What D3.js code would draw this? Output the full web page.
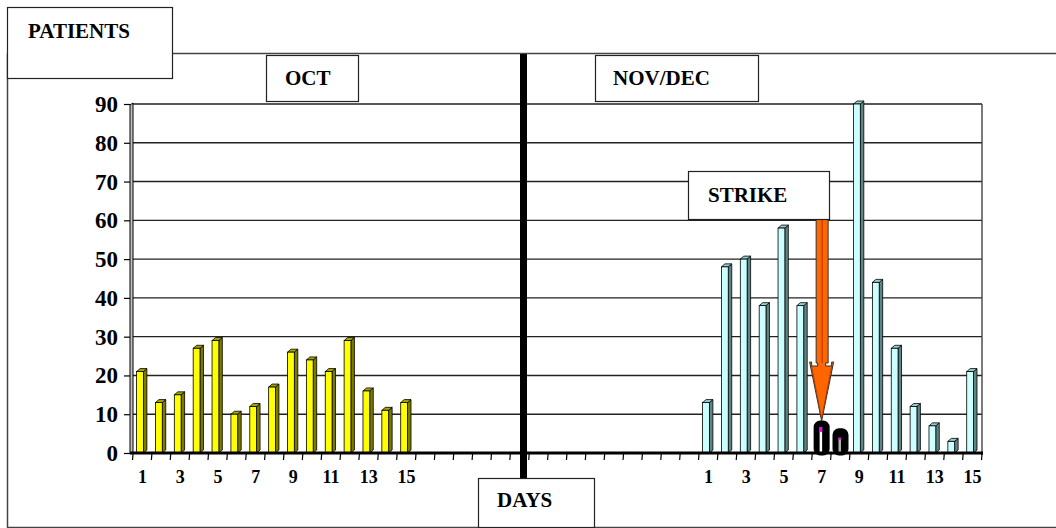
<html lang="en">
<head>
<meta charset="utf-8">
<title>Patients per day</title>
<script src="https://d3js.org/d3.v7.min.js"></script>
<style>
  body { margin: 0; background: #fff; }
  text { font-family: "Liberation Serif", "Times New Roman", serif; font-weight: bold; fill: #000; }
</style>
</head>
<body></body>
<script type="text/javascript">

/*********************************************************************/
// Data

var octDays = ["1","2","3","4","5","6","7","8","9","10","11","12","13","14","15"];
var octPatients = [21, 13, 15, 27, 29, 10, 12, 17, 26, 24, 21, 29, 16, 11, 13];

var novDecDays = ["1","2","3","4","5","6","7","8","9","10","11","12","13","14","15"];
var novDecPatients = [13, 48, 50, 38, 58, 38, 8, 6, 90, 44, 27, 12, 7, 3, 21];

// days of the strike (drawn as black bars)
var strikeDays = ["7", "8"];

var yTicks = [0, 10, 20, 30, 40, 50, 60, 70, 80, 90];
var gapSlots = 15;

/*********************************************************************/
// Canvas

var width = 1056, height = 528;

var svg = d3.select("body")
	.append("svg")
	.attr("width", width)
	.attr("height", height);

// slots: oct days, empty gap, nov/dec days
var slots = [];
octDays.forEach(function(d, i){ slots.push({key: "o" + d, label: d, value: octPatients[i], series: "oct"}); });
for (var g = 0; g < gapSlots; g++) slots.push({key: "g" + g, label: "", value: null, series: "gap"});
novDecDays.forEach(function(d, i){
	slots.push({key: "n" + d, label: d, value: novDecPatients[i],
		series: strikeDays.indexOf(d) >= 0 ? "strike" : "nov"});
});

var plotLeft = 133, plotRight = 982, plotTop = 104, plotBottom = 453;

var x = d3.scaleBand()
	.domain(slots.map(function(d){ return d.key; }))
	.range([plotLeft, plotRight])
	.padding(0);

var y = d3.scaleLinear()
	.domain([0, 90])
	.range([plotBottom, plotTop]);

var bw = x.bandwidth();

/*********************************************************************/
// Outer frame

svg.append("path")
	.attr("d", "M7.5,53.5 V527.5 H1056 M7.5,53.5 H1056")
	.style("fill", "none")
	.style("stroke", "#444")
	.style("stroke-width", 1.5);

/*********************************************************************/
// Grid + wall

svg.append("g")
	.selectAll("line")
	.data(yTicks.filter(function(t){ return t > 0; }))
	.enter()
	.append("line")
	.attr("x1", plotLeft)
	.attr("x2", plotRight)
	.attr("y1", function(d){ return y(d); })
	.attr("y2", function(d){ return y(d); })
	.style("stroke", "#222")
	.style("stroke-width", 1.4);

svg.append("line")
	.attr("x1", plotRight).attr("x2", plotRight)
	.attr("y1", plotTop).attr("y2", plotBottom + 2)
	.style("stroke", "#444")
	.style("stroke-width", 1.4);

// left wall (3D side)
svg.append("path")
	.attr("d", "M130," + (plotBottom + 1) + " V" + (plotTop + 1) + " L133," + (plotTop - 1) + " V" + plotBottom + " Z")
	.style("fill", "#c0c0c0")
	.style("stroke", "#000")
	.style("stroke-width", 1);

// y ticks + labels
var yAxis = svg.append("g");
yAxis.selectAll("line")
	.data(yTicks)
	.enter()
	.append("line")
	.attr("x1", 124).attr("x2", 130)
	.attr("y1", function(d){ return y(d) + 0.5; })
	.attr("y2", function(d){ return y(d) + 0.5; })
	.style("stroke", "#000")
	.style("stroke-width", 1.2);

yAxis.selectAll("text")
	.data(yTicks)
	.enter()
	.append("text")
	.attr("x", 118)
	.attr("y", function(d){ return y(d) + 8; })
	.attr("text-anchor", "end")
	.style("font-size", "23px")
	.text(function(d){ return d; });

/*********************************************************************/
// Bars

var dx = 3.5, dy = 3;
var colors = {
	oct: {front: "#ffff00", side: "#7a7a00", top: "#a6a600"},
	nov: {front: "#ccffff", side: "#5f8484", top: "#99cccc"}
};

var bars = svg.append("g")
	.selectAll("g")
	.data(slots.filter(function(d){ return d.series === "oct" || d.series === "nov"; }))
	.enter()
	.append("g");

function barX(d){ return x(d.key) + bw * 0.19; }
var bwFront = bw * 0.36;

bars.append("path")
	.attr("d", function(d){
		var x0 = barX(d) + bwFront, yt = y(d.value);
		return "M" + x0 + "," + yt + " L" + (x0 + dx) + "," + (yt - dy) + " V" + (plotBottom - dy) + " L" + x0 + "," + plotBottom + " Z";
	})
	.style("fill", function(d){ return colors[d.series].side; })
	.style("stroke", "#000")
	.style("stroke-width", 0.8);

bars.append("path")
	.attr("d", function(d){
		var x0 = barX(d), yt = y(d.value);
		return "M" + x0 + "," + yt + " L" + (x0 + dx) + "," + (yt - dy) + " H" + (x0 + bwFront + dx) + " L" + (x0 + bwFront) + "," + yt + " Z";
	})
	.style("fill", function(d){ return colors[d.series].top; })
	.style("stroke", "#000")
	.style("stroke-width", 0.8);

bars.append("rect")
	.attr("x", barX)
	.attr("y", function(d){ return y(d.value); })
	.attr("width", bwFront)
	.attr("height", function(d){ return plotBottom - y(d.value); })
	.style("fill", function(d){ return colors[d.series].front; })
	.style("stroke", "#000")
	.style("stroke-width", 0.8);

// strike bars
var strike = svg.append("g")
	.selectAll("g")
	.data(slots.filter(function(d){ return d.series === "strike"; }))
	.enter()
	.append("g");

strike.append("rect")
	.attr("x", function(d){ return x(d.key) + bw / 2 - 6.5; })
	.attr("y", function(d){ return y(d.value); })
	.attr("width", 13)
	.attr("height", function(d){ return plotBottom - y(d.value) + 1; })
	.attr("rx", 5)
	.style("fill", "#000")
	.style("stroke", "#000")
	.style("stroke-width", 3);

strike.append("rect")
	.attr("x", function(d, i){ return x(d.key) + bw / 2 - 2; })
	.attr("y", function(d, i){ return y(d.value) + (i === 0 ? 5 : 8); })
	.attr("width", 2.5)
	.attr("height", function(d, i){ return plotBottom - y(d.value) - (i === 0 ? 6 : 9); })
	.style("fill", function(d, i){ return i === 0 ? "#ffffff" : "#b0b0b0"; });

strike.append("rect")
	.attr("x", function(d, i){ return x(d.key) + bw / 2 - 2; })
	.attr("y", function(d, i){ return y(d.value) + (i === 0 ? 5 : 8); })
	.attr("width", 2.5)
	.attr("height", function(d, i){ return i === 0 ? 5 : 2; })
	.style("fill", "#ff00ff");

/*********************************************************************/
// X axis

svg.append("line")
	.attr("x1", 130).attr("x2", plotRight + 1)
	.attr("y1", plotBottom).attr("y2", plotBottom)
	.style("stroke", "#000")
	.style("stroke-width", 3);

svg.append("g")
	.selectAll("line")
	.data(slots.map(function(d){ return x(d.key); }).concat([plotRight]))
	.enter()
	.append("line")
	.attr("x1", function(d){ return d; })
	.attr("x2", function(d){ return d - 0.5; })
	.attr("y1", plotBottom + 1)
	.attr("y2", plotBottom + 7)
	.style("stroke", "#000")
	.style("stroke-width", 1.2);

svg.append("g")
	.selectAll("text")
	.data(slots.filter(function(d){ return d.label !== "" && (+d.label) % 2 === 1; }))
	.enter()
	.append("text")
	.attr("x", function(d){ return x(d.key) + bw / 2; })
	.attr("y", 483)
	.attr("text-anchor", "middle")
	.style("font-size", "18px")
	.text(function(d){ return d.label; });

/*********************************************************************/
// Divider

svg.append("rect")
	.attr("x", 520)
	.attr("y", 54)
	.attr("width", 7)
	.attr("height", 424)
	.style("fill", "#000");

/*********************************************************************/
// Arrow to strike

var arrowX = x("n7") + bw / 2;
svg.append("path")
	.attr("d", "M" + (arrowX - 5.5) + ",219 V363 H" + (arrowX - 4) + " V366 H" + (arrowX - 10) + " V362 H" + (arrowX - 12) +
		" L" + arrowX + ",421 L" + (arrowX + 12) + ",362 H" + (arrowX + 10) + " V366 H" + (arrowX + 4) + " V363 H" + (arrowX + 6.5) + " V219 Z")
	.style("fill", "#ff6600")
	.style("stroke", "#333")
	.style("stroke-width", 1);

svg.append("line")
	.attr("x1", arrowX + 0.5).attr("x2", arrowX + 0.5)
	.attr("y1", 219).attr("y2", 363)
	.style("stroke", "#aa3300")
	.style("stroke-width", 1);

svg.append("path")
	.attr("d", "M" + (arrowX - 10) + ",366 L" + arrowX + ",419 L" + (arrowX + 10) + ",366")
	.style("fill", "none")
	.style("stroke", "#aa3300")
	.style("stroke-width", 0.8);

/*********************************************************************/
// Boxes

function box(x0, y0, w, h, label, tx, ty){
	svg.append("rect")
		.attr("x", x0 + 0.5)
		.attr("y", y0 + 0.5)
		.attr("width", w)
		.attr("height", h)
		.style("fill", "#fff")
		.style("stroke", "#222")
		.style("stroke-width", 1.2);
	svg.append("text")
		.attr("x", tx)
		.attr("y", ty)
		.style("font-size", "21px")
		.text(label);
}

box(7, 7, 165, 71, "PATIENTS", 28, 38);
box(266, 55, 92, 46, "OCT", 285, 85);
box(595, 55, 163, 46, "NOV/DEC", 613, 85);
box(688, 171, 141, 48, "STRIKE", 708, 202);
box(478, 478, 116, 49, "DAYS", 497, 507);

</script>
</html>
